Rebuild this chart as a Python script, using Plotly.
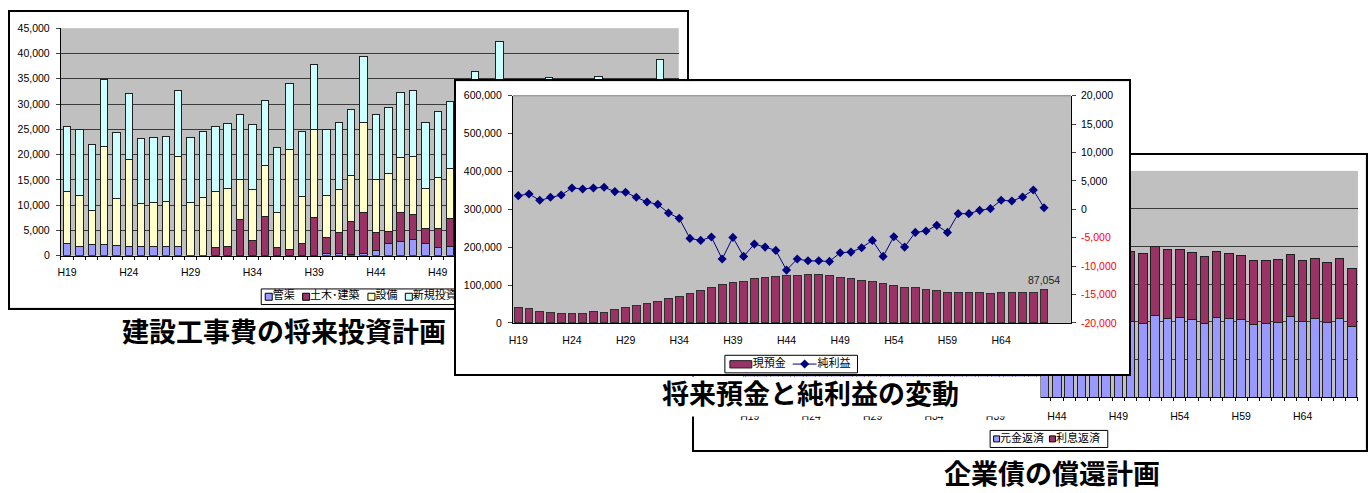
import plotly.graph_objects as go

W, H = 1371, 493

# ---------------- data ----------------
years = ["H19", "H20", "H21", "H22", "H23", "H24", "H25", "H26", "H27", "H28",
         "H29", "H30", "H31", "H32", "H33", "H34", "H35", "H36", "H37", "H38",
         "H39", "H40", "H41", "H42", "H43", "H44", "H45", "H46", "H47", "H48",
         "H49", "H50", "H51", "H52", "H53", "H54", "H55", "H56", "H57", "H58",
         "H59", "H60", "H61", "H62", "H63", "H64", "H65", "H66", "H67", "H68"]
years_ext = years + ["H69", "H70"]
tick_years = ["H19", "H24", "H29", "H34", "H39", "H44", "H49", "H54", "H59", "H64"]

# chart 1 : 建設工事費の将来投資計画 (stacked)
kankyo = [2520, 1810, 2200, 2200, 2000, 1810, 1810, 1810, 1810, 1810,
          0, 0, 0, 0, 0, 0, 0, 0, 0, 0,
          0, 390, 390, 190, 390, 1030, 2390, 2900, 3230, 2520,
          1610, 1870, 1500, 2000, 1800, 2500, 1500, 2200, 1800, 2500,
          1500, 2000, 1700, 2300, 1800, 2000, 1500, 2200, 2500, 1800]
doboku = [0, 0, 0, 0, 0, 0, 0, 0, 0, 0,
          0, 0, 1680, 1810, 7100, 3100, 7750, 1680, 1230, 2390,
          7620, 3160, 4130, 6650, 8070, 3490, 2450, 5560, 4840, 2900,
          3810, 5550, 4000, 6000, 3500, 8000, 4200, 3000, 5000, 6500,
          3000, 4500, 3800, 7000, 3500, 5000, 3000, 4500, 7500, 4000]
setsubi = [10130, 10130, 6710, 19490, 9230, 17240, 8450, 8650, 8910, 17820,
           10460, 11560, 10970, 11420, 7880, 10070, 10130, 6780, 19690, 9230,
           17300, 8390, 8650, 9040, 17940, 10460, 11490, 10910, 11490, 7810,
           10140, 9880, 9500, 15360, 8700, 18790, 10300, 7800, 11200, 13250,
           8500, 10500, 8500, 13080, 9700, 12000, 7500, 10300, 15740, 10200]
shinki = [12920, 12980, 13100, 13110, 13170, 13100, 12920, 12910, 12910, 12970,
          12910, 12970, 12920, 12980, 12910, 12850, 12850, 12910, 13040, 13040,
          12910, 12980, 13110, 13040, 12980, 12910, 12920, 12910, 13040, 13170,
          13040, 13100, 13000, 13000, 13000, 13000, 13000, 13000, 13000, 13000,
          13000, 13000, 13000, 13000, 13000, 13000, 13000, 13000, 13000, 13000]

# chart 2 : 将来預金と純利益の変動
cash = [39500, 36800, 29800, 27200, 24600, 24600, 24600, 29800, 27200, 35100,
        39500, 46500, 50000, 57000, 64000, 70200, 77200, 86000, 93000, 100900,
        106100, 110500, 117500, 119300, 122000, 124500, 126300, 128900, 128900, 126300,
        119300, 117500, 113100, 108700, 103500, 99100, 94700, 93000, 88600, 86000,
        81600, 81600, 79800, 79000, 77200, 79000, 79000, 81600, 81600, 87054]
profit = [2410, 2700, 1590, 2120, 2530, 3760, 3590, 3760, 3880, 3120,
          3000, 2120, 1290, 880, -650, -1590, -5120, -5470, -4880, -8760,
          -4940, -8290, -6120, -6650, -7230, -10700, -8760, -9060, -9060, -9170,
          -7640, -7530, -6760, -5470, -8290, -4820, -6650, -4060, -3820, -2820,
          -4060, -760, -760, -180, 120, 1590, 1470, 2180, 3410, 290]
right_ticks = [-20000, -15000, -10000, -5000, 0, 5000, 10000, 15000, 20000]

# chart 3 : 企業債の償還計画
principal = [10200, 10400, 9900, 10100, 10600, 10300, 9800, 10000, 10500, 10200,
             9900, 10300, 10100, 10600, 10000, 9800, 10400, 10200, 9900, 10300,
             10500, 10000, 10200, 9800, 10400, 10100, 10300, 9900, 10200, 10600,
             10000, 10000, 9830, 10820, 10470, 10600, 10300, 9830, 10600, 10390,
             10260, 9700, 9830, 9960, 10730, 10040, 10390, 9870, 10470, 9350]
interest = [11500, 11450, 11400, 11300, 11250, 11200, 11100, 11050, 11000, 10900,
            10850, 10800, 10700, 10600, 10550, 10500, 10400, 10300, 10250, 10150,
            10050, 10000, 9950, 9900, 9850, 9750, 9700, 9600, 9500, 9450,
            9350, 9270, 9220, 9180, 9100, 8970, 8880, 8830, 8670, 8620,
            8490, 8400, 8270, 8230, 8150, 8060, 8060, 7930, 7980, 7720]

names1 = ["管渠", "土木･建築", "設備", "新規投資"]
names2 = ["現預金", "純利益"]
names3 = ["元金返済", "利息返済"]

# ---------------- styles ----------------
C_BLUE = "#9999FF"
C_MAROON = "#993366"
C_YELLOW = "#FFFFCC"
C_CYAN = "#CCFFFF"
C_NAVY = "#000080"
GRAY = "#C0C0C0"
NUMF = "Liberation Sans, Arial, sans-serif"
TICK = dict(family=NUMF, size=10.5, color="#000000")
JP = "Noto Sans CJK JP, sans-serif"


def dx(a, b):
    return [a / W, b / W]


def dy(top, bottom):
    return [1 - bottom / H, 1 - top / H]


fig = go.Figure()
layout = {}

PANEL1 = (5.7, 685, 5.7, 309.3)
PANEL3 = (692, 1365.7, 152.3, 455)
PANEL2 = (453, 1128.3, 77, 377.3)


def add_panel(n, box):
    sfx = "" if n == 1 else str(n)
    x0, x1, y0, y1 = box
    fig.add_trace(go.Scatter(x=[0, 1, 1, 0, 0], y=[0, 0, 1, 1, 0], fill="toself",
                             fillcolor="white", mode="lines", line=dict(width=0, color="white"),
                             xaxis="x" + sfx, yaxis="y" + sfx, hoverinfo="skip", showlegend=False))
    common = dict(range=[0, 1], showline=True, mirror=True, linecolor="black", linewidth=1.5,
                  showticklabels=False, showgrid=False, zeroline=False, ticks="", fixedrange=True)
    layout["xaxis" + sfx] = dict(domain=dx(x0, x1), anchor="y" + sfx, **common)
    layout["yaxis" + sfx] = dict(domain=dy(y0, y1), anchor="x" + sfx, **common)
    # converters from page pixels to this panel's [0,1] frame (for the legend drawings)
    return (lambda p: (p - x0) / (x1 - x0)), (lambda p: (y1 - p) / (y1 - y0)), "x" + sfx, "y" + sfx


def legend_box(cx, cy, xa, ya, left, right, top, bottom):
    fig.add_trace(go.Scatter(x=[cx(left), cx(right), cx(right), cx(left), cx(left)],
                             y=[cy(bottom), cy(bottom), cy(top), cy(top), cy(bottom)],
                             mode="lines", line=dict(color="black", width=1), fill="toself",
                             fillcolor="white", xaxis=xa, yaxis=ya, hoverinfo="skip", showlegend=False))


def legend_squares(cx, cy, xa, ya, xs, yc, colors, size):
    fig.add_trace(go.Scatter(x=[cx(v) for v in xs], y=[cy(yc)] * len(xs), mode="markers",
                             marker=dict(symbol="square", size=size, color=colors,
                                         line=dict(color="black", width=1)),
                             xaxis=xa, yaxis=ya, hoverinfo="skip", showlegend=False))


def legend_texts(cx, cy, xa, ya, xs, yc, texts, size):
    fig.add_trace(go.Scatter(x=[cx(v) for v in xs], y=[cy(yc)] * len(xs), mode="text",
                             text=texts, textposition="middle right",
                             textfont=dict(family=JP, size=size, color="black"),
                             xaxis=xa, yaxis=ya, hoverinfo="skip", showlegend=False))


def cat_axis(cats, dom, anchor, standoff):
    return dict(domain=dom, anchor=anchor, type="category", categoryorder="array",
                categoryarray=cats, range=[-0.5, len(cats) - 0.5], tickmode="array",
                tickvals=cats, ticktext=[c if c in tick_years else "" for c in cats],
                tickson="boundaries", ticks="outside", ticklen=3, tickcolor="black",
                tickangle=0, showline=True, linecolor="black", linewidth=1, showgrid=False,
                zeroline=False, tickfont=TICK, ticklabelstandoff=standoff)


# ---------- panel 1 (back, left) ----------
c1x, c1y, xa1, ya1 = add_panel(1, PANEL1)
legend_box(c1x, c1y, xa1, ya1, 258, 480, 290, 306)
legend_squares(c1x, c1y, xa1, ya1, [265.5, 303, 368.5, 406], 298,
               [C_BLUE, C_MAROON, C_YELLOW, C_CYAN], 7)
legend_texts(c1x, c1y, xa1, ya1, [269.5, 307, 372.5, 410], 298, names1, 11)

# ---------- chart 1 ----------
for name, vals, col in zip(names1, [kankyo, doboku, setsubi, shinki],
                           [C_BLUE, C_MAROON, C_YELLOW, C_CYAN]):
    fig.add_trace(go.Bar(x=years, y=vals, name=name,
                         marker=dict(color=col, line=dict(color="#202020", width=1)),
                         width=0.6, xaxis="x2", yaxis="y2", showlegend=False))
layout["xaxis2"] = cat_axis(years, dx(57, 676.7), "y2", 7)
layout["yaxis2"] = dict(domain=dy(22.7, 256), anchor="x2", range=[0, 45000], dtick=5000,
                        tickformat=",", showgrid=True, gridcolor="#3A3A3A", gridwidth=1,
                        showline=True, linecolor="black", linewidth=1, ticks="outside", ticklen=4,
                        zeroline=False, tickfont=TICK, ticklabelstandoff=4)

# ---------- panel 3 (right) ----------
c3x, c3y, xa3, ya3 = add_panel(3, PANEL3)
legend_box(c3x, c3y, xa3, ya3, 989, 1107, 435, 452.5)
legend_squares(c3x, c3y, xa3, ya3, [995.5, 1051.5], 443.7, [C_BLUE, C_MAROON], 6)
legend_texts(c3x, c3y, xa3, ya3, [999, 1055], 443.7, names3, 11)

# ---------- chart 3 ----------
for name, vals, col in zip(names3, [principal, interest], [C_BLUE, C_MAROON]):
    fig.add_trace(go.Bar(x=years, y=vals, name=name, width=0.69,
                         marker=dict(color=col, line=dict(color="#202020", width=1)),
                         xaxis="x4", yaxis="y4", showlegend=False))
layout["xaxis4"] = cat_axis(years, dx(741.8, 1357.9), "y4", 9)
layout["yaxis4"] = dict(domain=dy(169, 401), anchor="x4", range=[0, 30000], dtick=5000,
                        tickformat=",", showgrid=True, gridcolor="#3A3A3A", gridwidth=1,
                        showline=True, linecolor="black", linewidth=1, ticks="outside", ticklen=4,
                        zeroline=False, tickfont=TICK, ticklabelstandoff=3)

# ---------- panel 2 (front, middle) ----------
c2x, c2y, xa2, ya2 = add_panel(5, PANEL2)
legend_box(c2x, c2y, xa2, ya2, 723, 856, 358, 376)
# bar swatch
fig.add_trace(go.Scatter(x=[c2x(728), c2x(750), c2x(750), c2x(728), c2x(728)],
                         y=[c2y(371), c2y(371), c2y(363.5), c2y(363.5), c2y(371)],
                         mode="lines", fill="toself", fillcolor=C_MAROON,
                         line=dict(color="#202020", width=1), xaxis=xa2, yaxis=ya2,
                         hoverinfo="skip", showlegend=False))
# line + marker swatch
fig.add_trace(go.Scatter(x=[c2x(791), c2x(815)], y=[c2y(367), c2y(367)], mode="lines",
                         line=dict(color=C_NAVY, width=1), xaxis=xa2, yaxis=ya2,
                         hoverinfo="skip", showlegend=False))
fig.add_trace(go.Scatter(x=[c2x(803)], y=[c2y(367)], mode="markers",
                         marker=dict(symbol="diamond", size=7, color=C_NAVY), xaxis=xa2, yaxis=ya2,
                         hoverinfo="skip", showlegend=False))
legend_texts(c2x, c2y, xa2, ya2, [751, 816], 367, names2, 11)

# ---------- chart 2 ----------
fig.add_trace(go.Bar(x=years, y=cash, name=names2[0], width=0.72,
                     marker=dict(color=C_MAROON, line=dict(color="#303030", width=1)),
                     xaxis="x6", yaxis="y6", showlegend=False))
fig.add_trace(go.Scatter(x=years, y=profit, name=names2[1], mode="lines+markers",
                         line=dict(color=C_NAVY, width=1),
                         marker=dict(symbol="diamond", size=7, color=C_NAVY),
                         xaxis="x6", yaxis="y7", showlegend=False))
layout["xaxis6"] = cat_axis(years_ext, dx(510.4, 1070), "y6", 8)
layout["xaxis6"]["ticks"] = ""
layout["yaxis6"] = dict(domain=dy(92, 324.8), anchor="x6", range=[0, 600000], dtick=100000,
                        tickformat=",", showgrid=False, showline=True, linecolor="black", linewidth=1,
                        ticks="outside", ticklen=4, zeroline=False, tickfont=TICK, ticklabelstandoff=4)
layout["yaxis7"] = dict(overlaying="y6", anchor="x6", side="right", range=[-20000, 20000],
                        tickmode="array", tickvals=right_ticks,
                        ticktext=[(f'<span style="color:#FF0000">{v:,}</span>' if v < 0 else f"{v:,}")
                                  for v in right_ticks],
                        showgrid=False, showline=True, linecolor="black", linewidth=1,
                        ticks="outside", ticklen=4, zeroline=False, tickfont=TICK, ticklabelstandoff=3)

layout["shapes"] = [dict(type="line", xref="x6 domain", yref="y6 domain", x0=0, x1=1, y0=1, y1=1,
                         line=dict(color="#808080", width=1), layer="above")]

title_font = dict(family=JP, size=27, color="black", weight="bold")
layout["annotations"] = [
    dict(text=f"{cash[-1]:,}", x=years[-1], y=cash[-1], xref="x6", yref="y6", yshift=10,
         showarrow=False, font=dict(family=NUMF, size=10.5, color="#202020")),
    dict(text="建設工事費の将来投資計画", x=281 / W, y=1 - 333 / H, xref="paper", yref="paper",
         xanchor="center", yanchor="middle", showarrow=False, font=title_font),
    # white text-box behind the middle title (it hides the right chart's lower part)
    dict(text=" ", x=655 / W, y=1 - 379 / H, xref="paper", yref="paper",
         xanchor="left", yanchor="top", showarrow=False, bgcolor="white",
         width=382, height=38.5, borderpad=0, font=dict(size=10)),
    dict(text="将来預金と純利益の変動", x=658 / W, y=1 - 396 / H, xref="paper", yref="paper",
         xanchor="left", yanchor="middle", showarrow=False, font=title_font),
    dict(text="企業債の償還計画", x=1051 / W, y=1 - 478 / H, xref="paper", yref="paper",
         xanchor="center", yanchor="middle", showarrow=False, font=title_font),
]

layout.update(dict(width=W, height=H, margin=dict(l=0, r=0, t=0, b=0), paper_bgcolor="white",
                   plot_bgcolor=GRAY, barmode="stack", showlegend=False, hovermode=False))
fig.update_layout(**layout)

fig.write_html("out.html", config={"displayModeBar": False},
               post_script="document.body.style.margin='0';")
